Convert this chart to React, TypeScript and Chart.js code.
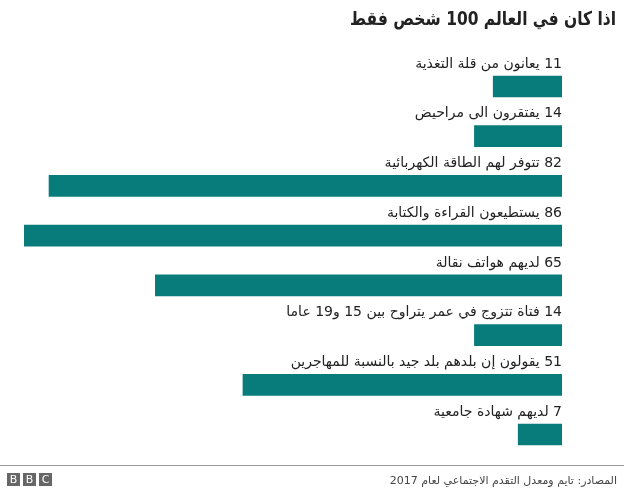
import React, { useEffect, useRef } from "react";
import { Chart, registerables } from "chart.js";

Chart.register(...registerables);

const title = "اذا كان في العالم 100 شخص فقط";
const source = "المصادر: تايم ومعدل التقدم الاجتماعي لعام 2017";
const categories = [
  "يعانون من قلة التغذية",
  "يفتقرون الى مراحيض",
  "تتوفر لهم الطاقة الكهربائية",
  "يستطيعون القراءة والكتابة",
  "لديهم هواتف نقالة",
  "فتاة تتزوج في عمر يتراوح بين 15 و19 عاما",
  "يقولون إن بلدهم بلد جيد بالنسبة للمهاجرين",
  "لديهم شهادة جامعية",
];
const values = [11, 14, 82, 86, 65, 14, 51, 7];

const W = 624;
const H = 494;
const TEAL = "#087c7a";
const FONT = "'DejaVu Sans', sans-serif";

// Draws the title, per-bar captions and the footer onto the chart canvas.
const decorations = {
  id: "decorations",
  afterDraw(chart: any) {
    const ctx = chart.ctx as CanvasRenderingContext2D;
    const meta = chart.getDatasetMeta(0);
    const right = chart.chartArea.right;
    ctx.save();
    ctx.direction = "rtl";
    ctx.textAlign = "right";
    ctx.textBaseline = "middle";

    ctx.fillStyle = "#222";
    ctx.font = `bold 19px ${FONT}`;
    ctx.fillText(title, 616, 20, 266);

    ctx.font = `14px ${FONT}`;
    meta.data.forEach((bar: any, i: number) => {
      const top = bar.y - bar.height / 2;
      ctx.fillText(`${values[i]} ${categories[i]}`, right, top - 12);
    });

    // footer rule
    ctx.strokeStyle = "#999";
    ctx.lineWidth = 1;
    ctx.beginPath();
    ctx.moveTo(0, 465.5);
    ctx.lineTo(W, 465.5);
    ctx.stroke();

    ctx.fillStyle = "#444";
    ctx.font = `11px ${FONT}`;
    ctx.fillText(source, 617, 481);

    // BBC blocks
    ctx.direction = "ltr";
    ctx.textAlign = "center";
    ["B", "B", "C"].forEach((ch, k) => {
      const x = 7 + k * 16;
      ctx.fillStyle = "#666";
      ctx.fillRect(x, 473, 13, 13);
      ctx.fillStyle = "#fff";
      ctx.font = `11px ${FONT}`;
      ctx.fillText(ch, x + 6.5, 480);
    });
    ctx.restore();
  },
};

export default function App() {
  const ref = useRef<HTMLCanvasElement>(null);
  useEffect(() => {
    document.body.style.margin = "0";
    const chart = new Chart(ref.current!, {
      type: "bar",
      data: {
        labels: categories,
        datasets: [
          {
            data: values,
            backgroundColor: TEAL,
            barThickness: 21,
          },
        ],
      },
      options: {
        indexAxis: "y",
        responsive: false,
        animation: false,
        layout: { padding: { left: 24, right: 62, top: 61.6, bottom: 34.6 } },
        scales: {
          x: { display: false, reverse: true, min: 0, max: 86 },
          y: { display: false },
        },
        plugins: {
          legend: { display: false },
          tooltip: { enabled: false },
        },
      },
      plugins: [decorations],
    });
    return () => chart.destroy();
  }, []);
  return (
    <div style={{ position: "absolute", left: 0, top: 0, width: W, height: H, background: "#fff" }}>
      <canvas ref={ref} width={W} height={H} style={{ width: W, height: H }} />
    </div>
  );
}
